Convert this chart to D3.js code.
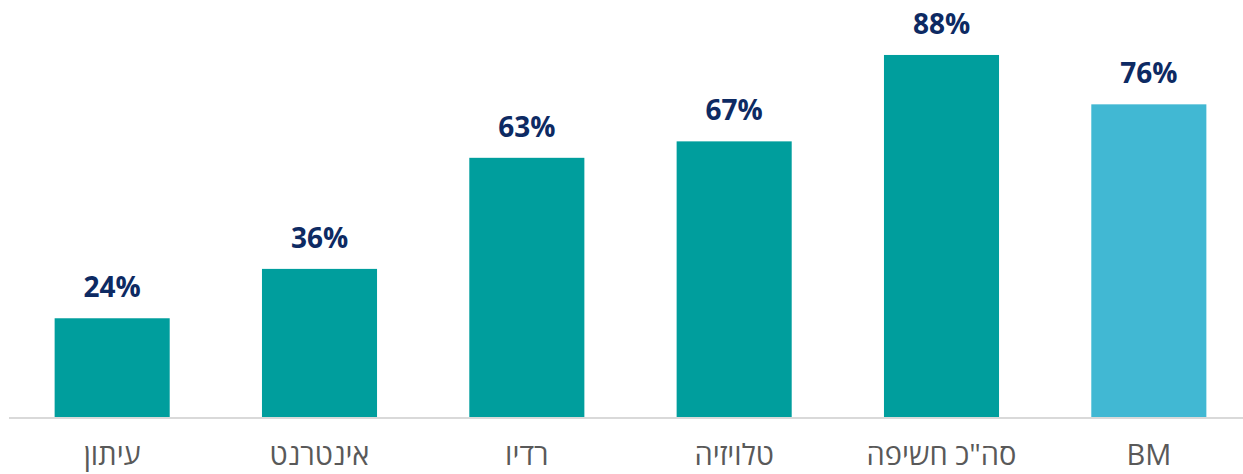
<!DOCTYPE html>
<html lang="he">
<head>
<meta charset="utf-8">
<script src="https://cdn.jsdelivr.net/npm/d3@7"></script>
<style>
  html, body { margin: 0; padding: 0; background: #fff; }
  svg { display: block; }
</style>
</head>
<body>
<svg id="chart" width="1243" height="474"></svg>
<script>
// Exposure by medium (percent)
const categories = ["עיתון", "אינטרנט", "רדיו", "טלויזיה", "סה\"כ חשיפה", "BM"];
const values = [24, 36, 63, 67, 88, 76];
const highlight = ["BM"];

const width = 1243, height = 474;
const baseY = 417;

const svg = d3.select("#chart");

const x = d3.scaleBand()
  .domain(categories)
  .range([8.5, 1252.5])
  .paddingInner(0.445)
  .paddingOuter(0.2225);

const y = d3.scaleLinear()
  .domain([0, 100])
  .range([baseY, baseY - 411.4]);

// bars
svg.append("g")
  .selectAll("rect")
  .data(categories)
  .join("rect")
  .attr("x", d => x(d))
  .attr("y", (d, i) => y(values[i]))
  .attr("width", x.bandwidth())
  .attr("height", (d, i) => y(0) - y(values[i]))
  .attr("fill", d => highlight.includes(d) ? "#41B8D3" : "#009E9D");

// baseline axis with category labels
const axis = d3.axisBottom(x).tickSize(0).tickPadding(0);
const gx = svg.append("g")
  .attr("transform", `translate(0,${baseY + 1})`)
  .call(axis);
gx.select(".domain")
  .attr("d", `M9,0H1243`)
  .attr("stroke", "#D9D9D9")
  .attr("stroke-width", 2);
gx.selectAll(".tick text")
  .attr("y", 47)
  .attr("dy", null)
  .attr("fill", "#595959")
  .style("font-family", "'Open Sans', sans-serif")
  .style("font-size", "29px")
  .style("font-weight", 400);

// value labels
svg.append("g")
  .selectAll("text")
  .data(categories)
  .join("text")
  .attr("x", d => x(d) + x.bandwidth() / 2)
  .attr("y", (d, i) => y(values[i]) - 21)
  .attr("text-anchor", "middle")
  .attr("fill", "#0D2A63")
  .style("font-family", "'Open Sans', sans-serif")
  .style("font-size", "28px")
  .style("font-weight", 700)
  .text((d, i) => values[i] + "%");
</script>
</body>
</html>
